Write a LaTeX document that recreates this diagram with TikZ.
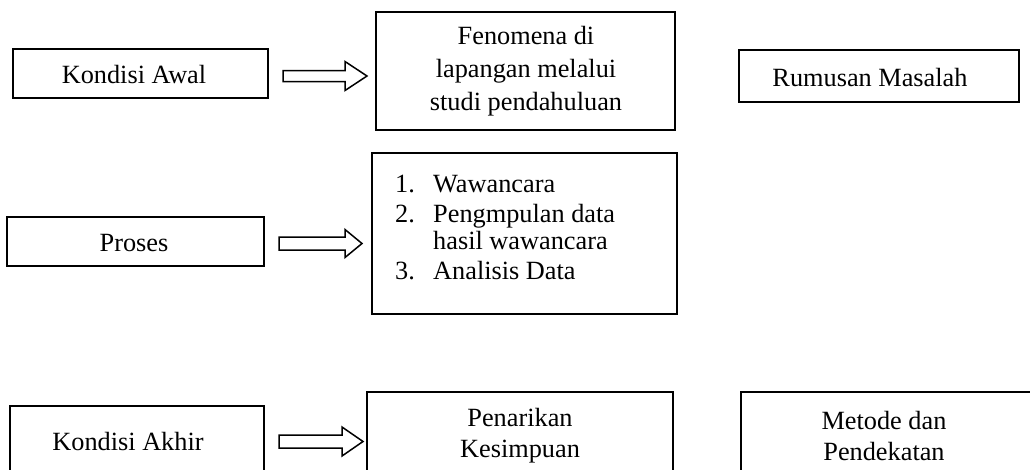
\documentclass[tikz,border=0pt]{standalone}
\usepackage{fontspec}
\setmainfont{Liberation Serif}
\usetikzlibrary{calc}
\tikzset{
  blk/.style={draw, line width=1.5pt, line join=miter},
  txt/.style={inner sep=0pt, font=\fontsize{26.3}{33}\selectfont},
  txtb/.style={inner sep=0pt, font=\fontsize{26.3}{31}\selectfont}
}
% block arrow: #1 start x, #2 centre y, #3 head base x, #4 tip x, #5 shaft half height, #6 head half height
\newcommand{\blockarrowx}[6]{%
  \draw[blk] (#1,#2-#5) -- (#3,#2-#5) -- (#3,#2-#6) -- (#4,#2) -- (#3,#2+#6) -- (#3,#2+#5) -- (#1,#2+#5) -- cycle;}
\begin{document}
\begin{tikzpicture}[x=1pt,y=-1pt]
\useasboundingbox (0,0) rectangle (1030,469);
\begin{scope}
\clip (0,0) rectangle (1030,469);
% row 1
\draw[blk] (13,49) rectangle (268,98);
\node[txt] (ka) at (134,75) {Kondisi Awal};
\draw[blk] (376,12) rectangle (675,130);
\node[txt, align=center] (fen) at (526,71) {Fenomena di\\lapangan melalui\\studi pendahuluan};
\draw[blk] (739,50) rectangle (1019,102);
\node[txt] (rm) at (870,78) {Rumusan Masalah};
\blockarrowx{283}{76}{345}{367}{5.5}{14.5}
% row 2
\draw[blk] (7,217) rectangle (264,266);
\node[txt] (pr) at (134,243) {Proses};
\draw[blk] (372,153) rectangle (677,314);
\node[txt, anchor=base west] (l1n) at (395,192) {1.};
\node[txt, anchor=base west] (l1) at (433,192) {Wawancara};
\node[txt, anchor=base west] (l2n) at (395,222) {2.};
\node[txt, anchor=base west] (l2) at (433,222) {Pengmpulan data};
\node[txt, anchor=base west] (l2b) at (433,249) {hasil wawancara};
\node[txt, anchor=base west] (l3n) at (395,279) {3.};
\node[txt, anchor=base west] (l3) at (433,279) {Analisis Data};
\blockarrowx{279}{243.5}{345}{362}{6.5}{14}
% row 3
\draw[blk] (10,406) rectangle (264,490);
\node[txt] (kak) at (128,441) {Kondisi Akhir};
\draw[blk] (367,392) rectangle (673,490);
\node[txtb, align=center] (pk) at (520,436) {Penarikan\\Kesimpuan};
\draw[blk] (741,392) rectangle (1040,490);
\node[txtb, align=center] (md) at (884,436) {Metode dan\\Pendekatan};
\blockarrowx{279}{441.5}{342}{363}{6.5}{14.5}
\end{scope}
\end{tikzpicture}
\end{document}
